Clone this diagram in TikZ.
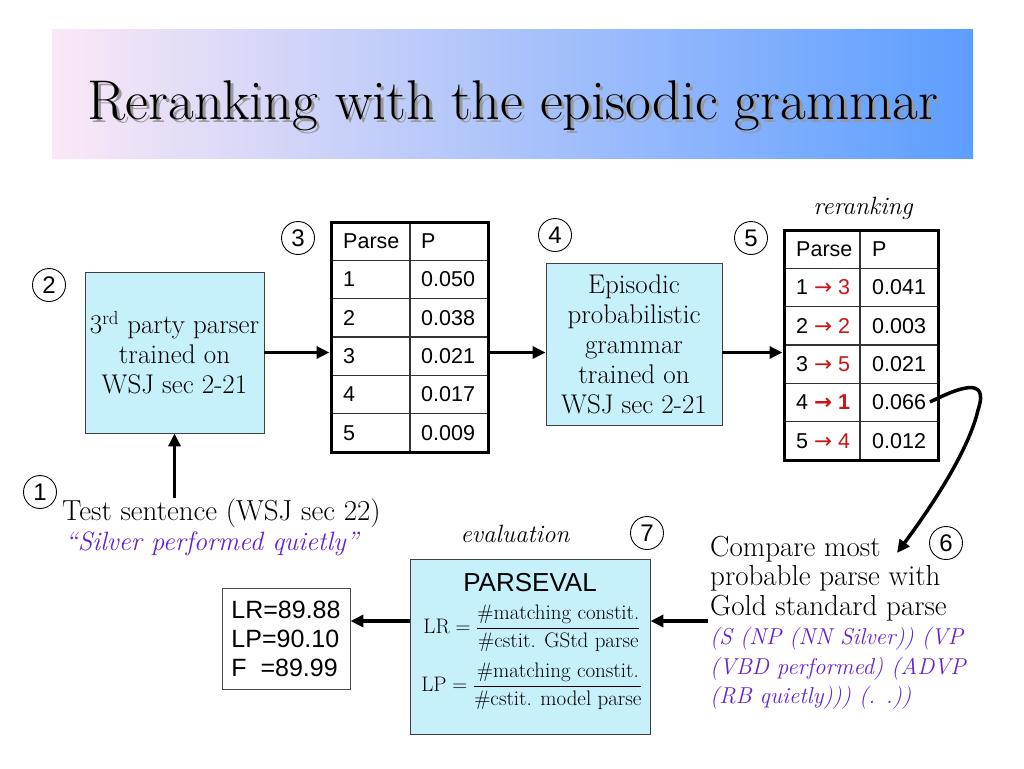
\documentclass[tikz,border=0pt]{standalone}
\usepackage{fontspec}
\setsansfont{Liberation Sans}
\newfontfamily\arrowfont{DejaVu Sans}
\usepackage{amsmath}
\usetikzlibrary{arrows.meta,positioning}

\definecolor{boxcyan}{RGB}{198,240,250}
\definecolor{parsepurple}{RGB}{102,34,204}
\definecolor{rerankred}{RGB}{204,20,20}
\definecolor{bandpink}{RGB}{251,232,246}
\definecolor{bandmid}{RGB}{165,205,242}
\definecolor{bandblue}{RGB}{92,158,255}

\tikzset{
  flow/.style={line width=3.5pt,-{Triangle[length=13pt,width=12pt]}},
  stepnum/.style={circle,draw,line width=0.9pt,minimum size=33pt,inner sep=0pt,
    font=\sffamily\fontsize{24}{24}\selectfont},
  module/.style={draw=black!75,fill=boxcyan,line width=0.9pt,align=center,inner sep=0pt,
    font=\fontsize{27}{30}\selectfont},
  ptable/.style={draw,line width=3pt,inner sep=0pt},
  cell/.style={anchor=west,inner sep=0pt,font=\sffamily\fontsize{21.5}{22}\selectfont},
  rowline/.style={black!80,line width=1.3pt},
  prose/.style={inner sep=0pt,align=left,font=\fontsize{29}{29.5}\selectfont},
  caption/.style={inner sep=0pt,font=\itshape\fontsize{25}{25}\selectfont},
}

\newcommand{\rr}[1]{\textcolor{rerankred}{{\arrowfont →} #1}}

\begin{document}
\begin{tikzpicture}[x=1pt,y=-1pt]
    \fill[white] (0,0) rectangle (1024,768);
    \useasboundingbox (0,0) rectangle (1024,768);

    % title band
    \shade[left color=bandpink, middle color=bandmid, right color=bandblue] (52,30) rectangle (973,158);
    \node[anchor=base, inner sep=0pt, text=black!40, font=\fontsize{56}{56}\selectfont] (titleShadow) at (516,122) {Reranking with the episodic grammar};
    \node[anchor=base, inner sep=0pt, font=\fontsize{56}{56}\selectfont] (title) at (513,119) {Reranking with the episodic grammar};

    % step numbers
    \node[stepnum] (n1) at (40,492) {1};
    \node[stepnum] (n2) at (49,285) {2};
    \node[stepnum] (n3) at (298,238) {3};
    \node[stepnum] (n4) at (555,235) {4};
    \node[stepnum] (n5) at (751,238) {5};
    \node[stepnum] (n6) at (946,543) {6};
    \node[stepnum] (n7) at (647,533) {7};

    % parser and grammar
    \node[module, minimum width=179pt, minimum height=161pt] (parser) at (174.5,352.5) {3\textsuperscript{rd} party parser\\trained on\\WSJ sec 2-21};
    \node[module, minimum width=176pt, minimum height=162pt] (grammar) at (634,344) {Episodic\\probabilistic\\grammar\\trained on\\WSJ sec 2-21};

    % table of the parser
    \draw[rowline] (331,260.3) -- (488,260.3);
    \draw[rowline] (331,298.7) -- (488,298.7);
    \draw[rowline] (331,337) -- (488,337);
    \draw[rowline] (331,375.3) -- (488,375.3);
    \draw[rowline] (331,413.7) -- (488,413.7);
    \draw[rowline] (410,222) -- (410,452);
    \node[ptable, minimum width=157pt, minimum height=230pt] (tabA) at (409.5,337) {};
    \node[cell] (tabA-h1) at (343,241.2) {Parse};
    \node[cell] (tabA-h2) at (421,241.2) {P};
    \node[cell] (tabA-k1) at (343,279.5) {1};
    \node[cell] (tabA-v1) at (421,279.5) {0.050};
    \node[cell] (tabA-k2) at (343,317.8) {2};
    \node[cell] (tabA-v2) at (421,317.8) {0.038};
    \node[cell] (tabA-k3) at (343,356.2) {3};
    \node[cell] (tabA-v3) at (421,356.2) {0.021};
    \node[cell] (tabA-k4) at (343,394.5) {4};
    \node[cell] (tabA-v4) at (421,394.5) {0.017};
    \node[cell] (tabA-k5) at (343,432.8) {5};
    \node[cell] (tabA-v5) at (421,432.8) {0.009};

    % table after reranking
    \draw[rowline] (784,268.3) -- (938,268.3);
    \draw[rowline] (784,306.7) -- (938,306.7);
    \draw[rowline] (784,345) -- (938,345);
    \draw[rowline] (784,383.3) -- (938,383.3);
    \draw[rowline] (784,421.7) -- (938,421.7);
    \draw[rowline] (860,230) -- (860,460);
    \node[ptable, minimum width=154pt, minimum height=230pt] (tabB) at (861,345) {};
    \node[caption, anchor=base] (rerankLbl) at (863,214) {reranking};
    \node[cell] (tabB-h1) at (796,249.2) {Parse};
    \node[cell] (tabB-h2) at (872,249.2) {P};
    \node[cell] (tabB-k1) at (796,287.5) {1 \rr{3}};
    \node[cell] (tabB-v1) at (872,287.5) {0.041};
    \node[cell] (tabB-k2) at (796,325.8) {2 \rr{2}};
    \node[cell] (tabB-v2) at (872,325.8) {0.003};
    \node[cell] (tabB-k3) at (796,364.2) {3 \rr{5}};
    \node[cell] (tabB-v3) at (872,364.2) {0.021};
    \node[cell] (tabB-k4) at (796,402.5) {4 \textbf{\rr{1}}};
    \node[cell] (tabB-v4) at (872,402.5) {0.066};
    \node[cell] (tabB-k5) at (796,440.8) {5 \rr{4}};
    \node[cell] (tabB-v5) at (872,440.8) {0.012};

    % test sentence
    \node[prose, anchor=base west] (testTxt) at (62,520) {Test sentence (WSJ sec 22)};
    \node[prose, anchor=base west, text=parsepurple, font=\itshape\fontsize{26.5}{29.5}\selectfont] (silverTxt) at (65,550) {“Silver performed quietly”};

    % comparison with the gold standard
    \node[prose, anchor=north west] (cmpTxt) at (710,536) {Compare most\\probable parse with\\Gold standard parse\\
      \textcolor{parsepurple}{\itshape\fontsize{23}{29.5}\selectfont (S (NP (NN Silver)) (VP}\\
      \textcolor{parsepurple}{\itshape\fontsize{23}{29.5}\selectfont (VBD performed) (ADVP}\\
      \textcolor{parsepurple}{\itshape\fontsize{23}{29.5}\selectfont (RB quietly))) (. .))}};
    \coordinate (cmpOut) at (708,621);

    % evaluation
    \node[caption, anchor=base] (evalLbl) at (515,542) {evaluation};
    \node[module, minimum width=240pt, minimum height=175pt] (parseval) at (530,646.5) {};
    \node[inner sep=0pt, font=\sffamily\fontsize{26}{26}\selectfont] (parsevalTxt) at (530,583) {PARSEVAL};
    \node[inner sep=0pt, font=\fontsize{21}{24}\selectfont] (lrFrac) at (532,628) {$\mathrm{LR} = \dfrac{\text{\#matching constit.}}{\text{\#cstit. GStd parse}}$};
    \node[inner sep=0pt, font=\fontsize{21}{24}\selectfont] (lpFrac) at (532,686) {$\mathrm{LP} = \dfrac{\text{\#matching constit.}}{\text{\#cstit. model parse}}$};
    \node[draw=black!70, line width=0.9pt, minimum width=128pt, minimum height=101pt, inner sep=0pt, align=left,
      font=\sffamily\fontsize{25}{29}\selectfont] (scores) at (286,638.5) {LR=89.88\\LP=90.10\\F\ \ =89.99};

    % connectors
    \draw[flow] (parser.south |- testTxt.north) -- (parser.south);
    \draw[flow] (parser.east) -- (parser.east -| tabA.west);
    \draw[flow] (tabA.east |- parser.east) -- (grammar.west |- parser.east);
    \draw[flow] (grammar.east |- parser.east) -- (tabB.west |- parser.east);
    \coordinate (hitB) at (930,402);
    \coordinate (bendB) at (978,410);
    \coordinate (cmpTip) at (897,553);
    \draw[flow] (hitB) .. controls (958,388) and (990,375) .. (bendB)
      .. controls (970,445) and (940,495) .. (cmpTip);
    \draw[flow] (cmpOut) -- (cmpOut -| parseval.east);
    \draw[flow] (parseval.west |- cmpOut) -- (cmpOut -| scores.east);
\end{tikzpicture}
\end{document}
